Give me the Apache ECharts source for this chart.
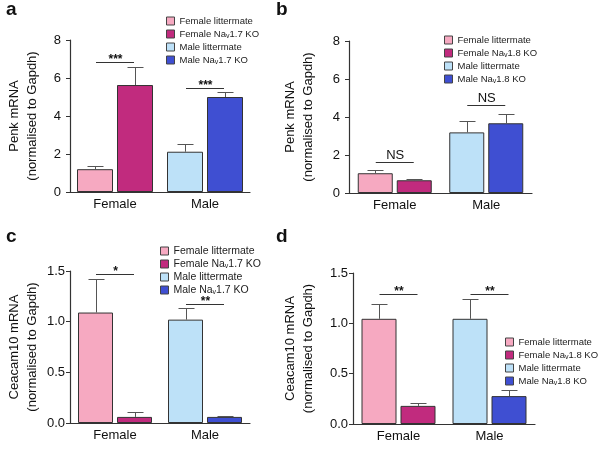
<!DOCTYPE html>
<html><head><meta charset="utf-8">
<script src="https://cdn.jsdelivr.net/npm/echarts@6/dist/echarts.min.js"></script>
<style>html,body{margin:0;padding:0;background:#fff}#c{width:600px;height:452px}</style>
</head><body><div id="c"></div>
<script>
// ---------- data ----------
const groups = ['Female', 'Male'];
const names17 = ['Female littermate', 'Female Nav1.7 KO', 'Male littermate', 'Male Nav1.7 KO'];
const names18 = ['Female littermate', 'Female Nav1.8 KO', 'Male littermate', 'Male Nav1.8 KO'];
const colors = ['#F6A9C1', '#C12B7E', '#BDE1F8', '#3F4FD2'];

const penk17Mean = [1.20, 5.63, 2.12, 5.00];
const penk17Sem  = [0.18, 0.93, 0.41, 0.25];
const penk18Mean = [1.04, 0.67, 3.19, 3.67];
const penk18Sem  = [0.18, 0.09, 0.59, 0.51];
const cea17Mean  = [1.09, 0.06, 1.02, 0.06];
const cea17Sem   = [0.33, 0.045, 0.115, 0.012];
const cea18Mean  = [1.045, 0.18, 1.045, 0.277];
const cea18Sem   = [0.145, 0.03, 0.195, 0.065];

const sigText17p = ['***', '***'];  const sigY17p = [6.86, 5.47];
const sigText18p = ['NS', 'NS'];    const sigY18p = [1.61, 4.62];
const sigText17c = ['*', '**'];     const sigY17c = [1.47, 1.175];
const sigText18c = ['**', '**'];    const sigY18c = [1.293, 1.293];

const penkTicks = [0, 8, 2];      // min, max, interval
const ceaTicks = [0, 1.5, 0.5];

// ---------- layout ----------
const FONT = '"Liberation Sans", Arial, Helvetica, sans-serif';
const panels = [
  {letter:'a', lx:6, ly:0, grid:{left:70, top:40, width:180, height:152}, mean:penk17Mean, sem:penk17Sem, names:names17,
   sigT:sigText17p, sigY:sigY17p, ticks:penkTicks, dec:0, yname:'Penk mRNA\n(normalised to Gapdh)', nameGap:29, lh:18,
   legend:{left:166, top:15, fs:9.5}, labelMargin:9, bw:36, gap:4},
  {letter:'b', lx:276, ly:0, grid:{left:349, top:41, width:183, height:152}, mean:penk18Mean, sem:penk18Sem, names:names18,
   sigT:sigText18p, sigY:sigY18p, ticks:penkTicks, dec:0, yname:'Penk mRNA\n(normalised to Gapdh)', nameGap:32, lh:18,
   legend:{left:444, top:34, fs:9.5}, labelMargin:9, bw:35, gap:4},
  {letter:'c', lx:6, ly:227, grid:{left:70, top:271, width:180, height:152}, mean:cea17Mean, sem:cea17Sem, names:names17,
   sigT:sigText17c, sigY:sigY17c, ticks:ceaTicks, dec:1, yname:'Ceacam10 mRNA\n(normalised to Gapdh)', nameGap:29, lh:18,
   legend:{left:160, top:245, fs:10.5}, labelMargin:5, bw:35, gap:4},
  {letter:'d', lx:276, ly:227, grid:{left:353, top:273, width:182, height:151}, mean:cea18Mean, sem:cea18Sem, names:names18,
   sigT:sigText18c, sigY:sigY18c, ticks:ceaTicks, dec:1, yname:'Ceacam10 mRNA\n(normalised to Gapdh)', nameGap:36, lh:18,
   legend:{left:505, top:336, fs:9.5}, labelMargin:5, bw:35, gap:4}
];

const option = {
  animation: false,
  backgroundColor: '#fff',
  textStyle: {fontFamily: FONT},
  title: [], grid: [], xAxis: [], yAxis: [], legend: [], series: []
};

panels.forEach((p, gi) => {
  option.title.push({text: p.letter, left: p.lx, top: p.ly, padding: 0,
    textStyle: {fontFamily: FONT, fontSize: 19, fontWeight: 'bold', color: '#111'}});
  option.grid.push(Object.assign({containLabel: false}, p.grid));
  option.xAxis.push({type: 'category', gridIndex: gi, data: groups,
    axisLine: {lineStyle: {color: '#333', width: 1.2}}, axisTick: {show: false},
    axisLabel: {fontFamily: FONT, fontSize: 13, color: '#111', margin: 6}});
  option.yAxis.push({type: 'value', gridIndex: gi, min: p.ticks[0], max: p.ticks[1], interval: p.ticks[2],
    splitLine: {show: false},
    axisLine: {show: true, lineStyle: {color: '#333', width: 1.2}},
    axisTick: {show: true, length: 4, lineStyle: {color: '#333'}},
    axisLabel: {fontFamily: FONT, fontSize: 13, color: '#111', margin: p.labelMargin,
      formatter: v => v.toFixed(p.dec)},
    name: p.yname, nameLocation: 'middle', nameGap: p.nameGap, nameRotate: 90,
    nameTextStyle: {fontFamily: FONT, fontSize: 13, color: '#111', lineHeight: p.lh}});
  option.legend.push({data: p.names, orient: 'vertical', left: p.legend.left, top: p.legend.top,
    itemWidth: 8, itemHeight: 8, itemGap: 1, icon: 'rect', padding: 0,
    itemStyle: {borderColor: '#444', borderWidth: 1},
    formatter: n => n.replace('Nav', 'Na{s|v}'),
    textStyle: {fontFamily: FONT, fontSize: p.legend.fs, color: '#222', lineHeight: 12,
      rich: {s: {fontFamily: FONT, fontSize: 7, color: '#222', lineHeight: 12, padding: [5, 0, 0, 0]}}}});

  const off = (p.bw + p.gap) / 2;
  p.names.forEach((nm, i) => {
    const cat = i < 2 ? 0 : 1;
    const data = cat === 0 ? [p.mean[i], '-'] : ['-', p.mean[i]];
    option.series.push({type: 'bar', name: nm, xAxisIndex: gi, yAxisIndex: gi,
      stack: (i % 2 === 0 ? 'L' : 'R') + gi, data: data, barWidth: p.bw, barGap: (p.gap / p.bw * 100) + '%',
      itemStyle: {color: colors[i], borderColor: '#333', borderWidth: 1}, emphasis: {disabled: true}});
  });
  // error bars
  const errData = p.mean.map((m, i) => [i < 2 ? 0 : 1, m, m + p.sem[i], i % 2 === 0 ? -1 : 1]);
  option.series.push({type: 'custom', name: 'err' + gi, xAxisIndex: gi, yAxisIndex: gi, data: errData, z: 5,
    renderItem: (params, api) => {
      const c = api.value(0), m = api.value(1), u = api.value(2), s = api.value(3);
      const p0 = api.coord([c, m]), p1 = api.coord([c, u]);
      const cx = Math.round(p0[0] + s * off) + 0.5;
      const y1 = Math.round(p1[1]) + 0.5;
      return {type: 'group', children: [
        {type: 'line', shape: {x1: cx, y1: p0[1], x2: cx, y2: y1}, style: {stroke: '#555', lineWidth: 1}},
        {type: 'line', shape: {x1: cx - 8, y1: y1, x2: cx + 8, y2: y1}, style: {stroke: '#555', lineWidth: 1}}
      ]};
    }});
  // significance
  const sigData = p.sigY.map((y, i) => [i, y]);
  option.series.push({type: 'custom', name: 'sig' + gi, xAxisIndex: gi, yAxisIndex: gi, data: sigData, z: 5,
    renderItem: (params, api) => {
      const c = api.value(0), y = api.value(1);
      const pt = api.coord([c, y]);
      const yy = Math.round(pt[1]) + 0.5;
      const t = p.sigT[params.dataIndex];
      const isNS = t === 'NS';
      return {type: 'group', children: [
        {type: 'line', shape: {x1: pt[0] - 19, y1: yy, x2: pt[0] + 19, y2: yy}, style: {stroke: '#333', lineWidth: 1}},
        {type: 'text', x: pt[0] + 0.5, y: isNS ? yy - 1 : yy + 3,
          style: {text: t, fontFamily: FONT, fontSize: isNS ? 13 : 12, fontWeight: isNS ? 'normal' : 'bold', fill: '#111', align: 'center', verticalAlign: 'bottom'}}
      ]};
    }});
});

const chart = echarts.init(document.getElementById('c'), null, {renderer: 'canvas'});
chart.setOption(option);
</script>
</body></html>
